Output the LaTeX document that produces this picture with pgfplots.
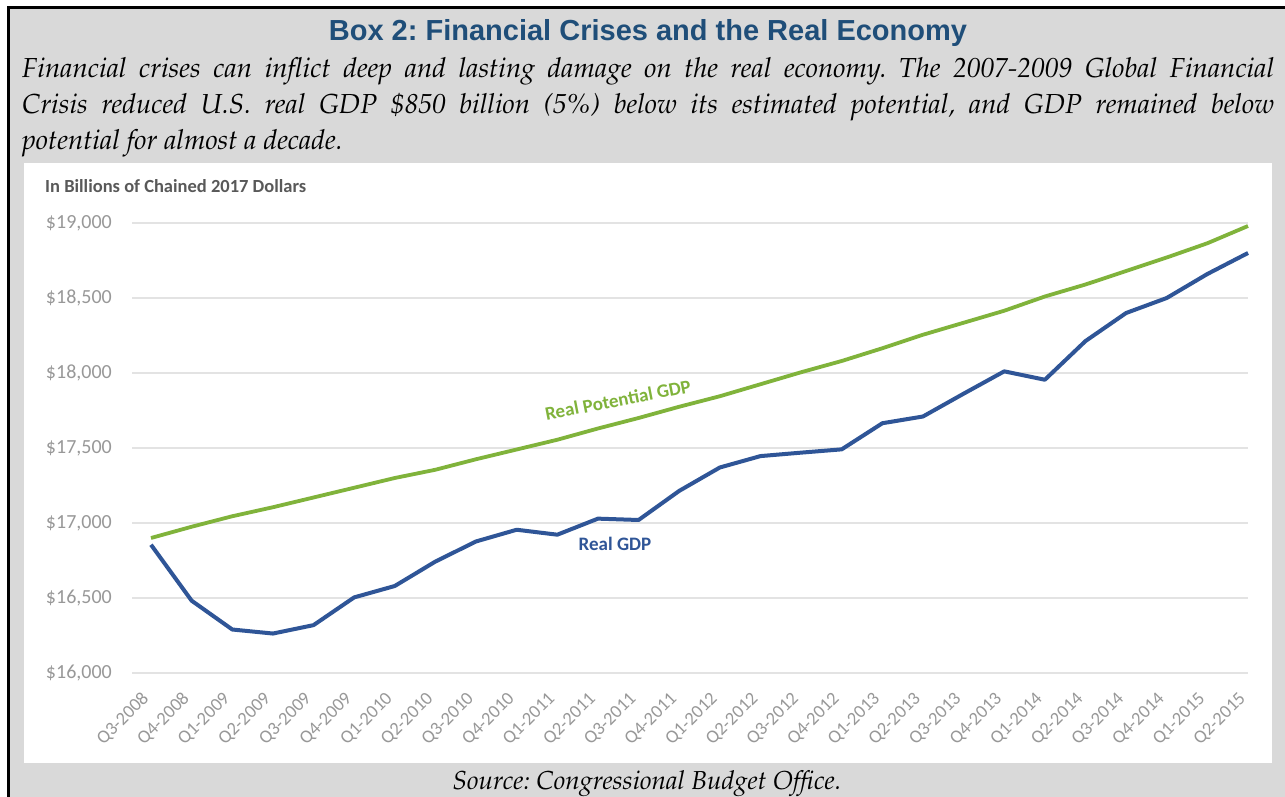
\documentclass[border=0pt]{standalone}
\usepackage[T1]{fontenc}
\usepackage{fontspec}
\usepackage{pgfplots}
\pgfplotsset{compat=1.18}
\newfontfamily\calibri{Carlito}
\newfontfamily\arial{Liberation Sans}
\newcommand\palit{\fontencoding{T1}\fontfamily{ppl}\fontseries{m}\fontshape{it}\selectfont}
\definecolor{bggray}{HTML}{D9D9D9}
\definecolor{titleblue}{HTML}{1F4E79}
\definecolor{gdpblue}{HTML}{2F5597}
\definecolor{potgreen}{HTML}{80B33B}
\definecolor{ticklab}{HTML}{989898}
\definecolor{gridc}{HTML}{E3E3E3}
\definecolor{ytitle}{HTML}{595959}

\pgfplotstableread{
idx gdp pot
0 16855 16900
1 16482 16975
2 16290 17045
3 16263 17105
4 16319 17170
5 16504 17235
6 16580 17300
7 16743 17355
8 16877 17425
9 16955 17490
10 16922 17555
11 17029 17630
12 17020 17700
13 17214 17775
14 17370 17845
15 17446 17925
16 17469 18005
17 17491 18080
18 17665 18165
19 17710 18255
20 17862 18335
21 18011 18415
22 17955 18510
23 18213 18590
24 18400 18680
25 18500 18770
26 18660 18865
27 18800 18980
}\gdpdata

\begin{document}
\frenchspacing
\begin{tikzpicture}[x=1pt,y=1pt]
\fill[bggray] (8,0) rectangle (1285,790);
\fill[white] (24,34) rectangle (1272,634);
\draw[black, line width=2.7pt] (8.7,0) -- (8.7,789.7) -- (1285,789.7);

\node[anchor=base, inner sep=0pt, font=\arial\bfseries\fontsize{29}{29}\selectfont, text=titleblue] at (648,756) {Box 2: Financial Crises and the Real Economy};

\node[anchor=base west, inner sep=0pt, font=\palit\fontsize{27.5}{27.5}\selectfont] at (22,719) {\makebox[1252pt][s]{Financial crises can inflict deep and lasting damage on the real economy. The 2007-2009 Global Financial}};
\node[anchor=base west, inner sep=0pt, font=\palit\fontsize{27.5}{27.5}\selectfont] at (22,683) {\makebox[1252pt][s]{Crisis reduced U.S. real GDP \$850 billion (5\%) below its estimated potential, and GDP remained below}};
\node[anchor=base west, inner sep=0pt, font=\palit\fontsize{27.5}{27.5}\selectfont] at (22,647) {potential for almost a decade.};

\node[anchor=base, inner sep=0pt, font=\palit\fontsize{26}{26}\selectfont] at (647,7) {Source: Congressional Budget Office.};

\node[anchor=base west, inner sep=0pt, font=\calibri\bfseries\fontsize{18.5}{18.5}\selectfont, text=ytitle] at (45,604) {In Billions of Chained 2017 Dollars};

\begin{axis}[
  at={(132pt,124pt)}, anchor=south west,
  scale only axis, width=1116pt, height=450pt,
  xmin=-0.468, xmax=27, ymin=16000, ymax=19000,
  clip=false,
  scaled y ticks=false,
  axis line style={draw=none},
  tick style={draw=none},
  ymajorgrids, grid style={gridc, line width=1.5pt},
  ytick={16000,16500,17000,17500,18000,18500,19000},
  yticklabels={{\$16,000},{\$16,500},{\$17,000},{\$17,500},{\$18,000},{\$18,500},{\$19,000}},
  yticklabel style={font=\calibri\fontsize{20}{20}\selectfont, text=ticklab, inner sep=0pt, xshift=-20pt},
  xtick={0,...,27},
  xticklabels={Q3-2008,Q4-2008,Q1-2009,Q2-2009,Q3-2009,Q4-2009,Q1-2010,Q2-2010,Q3-2010,Q4-2010,Q1-2011,Q2-2011,Q3-2011,Q4-2011,Q1-2012,Q2-2012,Q3-2012,Q4-2012,Q1-2013,Q2-2013,Q3-2013,Q4-2013,Q1-2014,Q2-2014,Q3-2014,Q4-2014,Q1-2015,Q2-2015},
  xticklabel style={font=\calibri\fontsize{18.5}{18.5}\selectfont, text=ticklab, inner sep=0pt, anchor=east, xshift=-5pt, yshift=-23pt, rotate=45},
]
\addplot[potgreen, line width=3.8pt, line join=round] table[x=idx, y=pot] {\gdpdata};
\addplot[gdpblue, line width=4pt, line join=round] table[x=idx, y=gdp] {\gdpdata};
\node[rotate=11, font=\calibri\bfseries\fontsize{19}{19}\selectfont, text=potgreen] at (axis cs:11.49,17820) {Real Potential GDP};
\node[font=\calibri\bfseries\fontsize{19}{19}\selectfont, text=gdpblue] at (axis cs:11.42,16860) {Real GDP};
\end{axis}
\pgfresetboundingbox
\path (0,0) rectangle (1285,797);
\end{tikzpicture}
\end{document}
